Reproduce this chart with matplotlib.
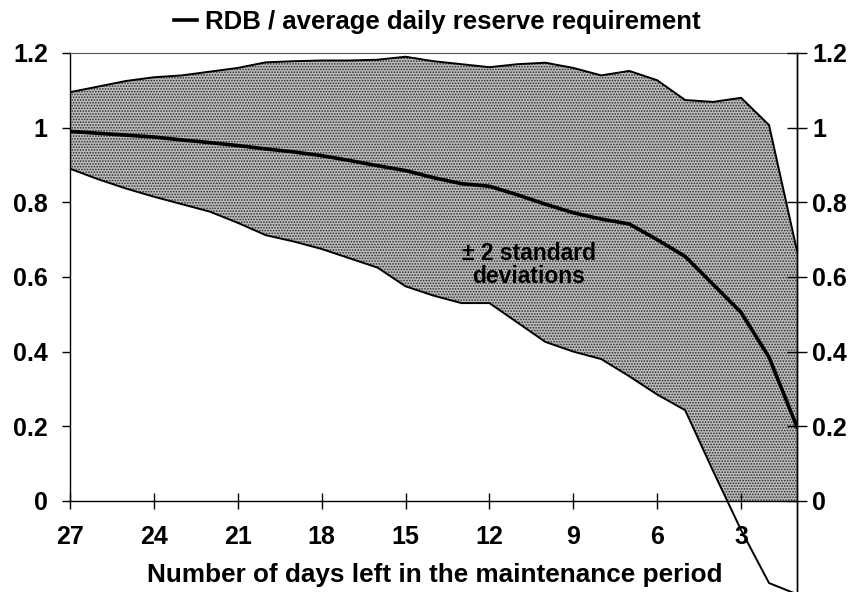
import numpy as np
import matplotlib
matplotlib.use("Agg")
import matplotlib.pyplot as plt
from matplotlib.lines import Line2D
from matplotlib.patches import Rectangle

plt.rcParams["font.family"] = ["Liberation Sans", "DejaVu Sans"]
plt.rcParams["font.weight"] = "bold"
plt.rcParams["hatch.linewidth"] = 0.8

# days left in the maintenance period (27 -> 1)
days = list(range(27, 0, -1))
mean = [0.99, 0.985, 0.98, 0.975, 0.967, 0.96, 0.952, 0.943, 0.935, 0.925,
        0.912, 0.898, 0.885, 0.866, 0.85, 0.843, 0.82, 0.795, 0.772, 0.755,
        0.742, 0.70, 0.655, 0.58, 0.505, 0.385, 0.198]
upper = [1.095, 1.11, 1.125, 1.135, 1.14, 1.15, 1.16, 1.175, 1.178, 1.18,
         1.18, 1.182, 1.19, 1.178, 1.17, 1.162, 1.17, 1.174, 1.16, 1.14,
         1.152, 1.127, 1.074, 1.069, 1.08, 1.007, 0.67]
lower = [0.89, 0.862, 0.837, 0.815, 0.795, 0.775, 0.745, 0.712, 0.695, 0.675,
         0.65, 0.625, 0.575, 0.55, 0.53, 0.53, 0.478, 0.426, 0.40, 0.38,
         0.334, 0.285, 0.243, 0.08, -0.078, -0.22, -0.25]
xticks = [27, 24, 21, 18, 15, 12, 9, 6, 3]
yticks = [0, 0.2, 0.4, 0.6, 0.8, 1.0, 1.2]
ylabels = ["0", "0.2", "0.4", "0.6", "0.8", "1", "1.2"]

x = np.array(days)
fig = plt.figure(figsize=(8.6, 5.92), dpi=100)
ax = fig.add_axes([70/860, 0.0, (797-70)/860, (592-53)/592])
ax.set_xlim(27, 1)
ax.set_ylim(-0.244, 1.2)

# band between the bounds, shown only above zero
band = ax.fill_between(x, lower, upper, facecolor="#bcbcbc",
                       hatch="......", edgecolor="#2a2a2a", linewidth=0, zorder=1)
above0 = Rectangle((0, 0), 30, 2, transform=ax.transData)
band.set_clip_path(above0)
ax.plot(x, upper, color="black", lw=1.4, zorder=3)
ax.plot(x, lower, color="black", lw=1.4, zorder=3)
ax.plot(x, mean, color="black", lw=2.6, zorder=4)

ax.text(10.6, 0.632, "\u00b1 2 standard\ndeviations", ha="center", va="center",
        fontsize=16.5, fontweight="bold", linespacing=1.0, zorder=5)

# axes styling
ax.spines["left"].set_bounds(0, 1.2)
ax.spines["bottom"].set_position(("data", 0))
ax.spines["top"].set_linewidth(0.8)
ax.spines["top"].set_color("#555555")
for s in ("left", "bottom", "right"):
    ax.spines[s].set_linewidth(1.0)

ax.set_xticks(xticks)
ax.set_xticklabels([str(t) for t in xticks])
ax.tick_params(axis="x", direction="inout", length=11, width=1, pad=12, labelsize=18)
ax.set_yticks(yticks)
ax.set_yticklabels(ylabels)
ax.tick_params(axis="y", direction="out", length=6, width=1, pad=10, labelsize=18)

ax2 = ax.twinx()
ax2.set_ylim(ax.get_ylim())
ax2.set_yticks(yticks)
ax2.set_yticklabels(ylabels)
ax2.tick_params(axis="y", direction="inout", length=14, width=1, pad=4, labelsize=18)
for s in ("left", "top", "bottom"):
    ax2.spines[s].set_visible(False)
ax2.spines["right"].set_linewidth(1.0)

fig.text(435/860, 1 - 575/592, "Number of days left in the maintenance period",
         ha="center", va="center", fontsize=18.8, fontweight="bold")

handle = Line2D([], [], color="black", lw=2.6)
fig.legend([handle], ["RDB / average daily reserve requirement"],
           loc="center", bbox_to_anchor=(437/860, 1 - 22/592), frameon=False,
           handlelength=0.9, handletextpad=0.3, prop={"size": 18.5, "weight": "bold"})

fig.savefig("out.png", dpi=100)
